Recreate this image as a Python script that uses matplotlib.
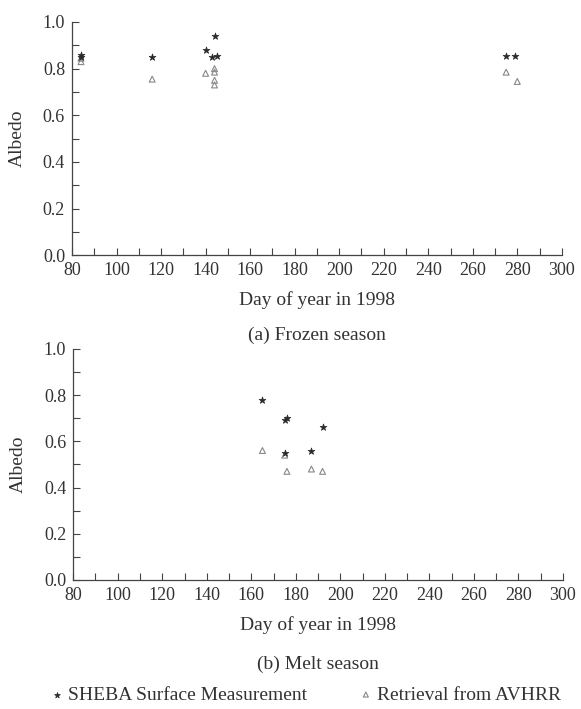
import matplotlib
matplotlib.use('Agg')
import matplotlib.pyplot as plt
from matplotlib.ticker import MultipleLocator, FormatStrFormatter

plt.rcParams['font.family'] = ['Liberation Serif', 'DejaVu Serif']

# (a) frozen season
frozen_sheba_day = [84, 84, 116, 140, 144, 143, 145, 275, 279]
frozen_sheba_alb = [0.86, 0.85, 0.85, 0.88, 0.94, 0.85, 0.855, 0.855, 0.855]
frozen_avhrr_day = [84, 84, 116, 140, 144, 144, 144, 144, 275, 280]
frozen_avhrr_alb = [0.83, 0.845, 0.755, 0.78, 0.80, 0.785, 0.75, 0.73, 0.785, 0.745]

# (b) melt season
melt_sheba_day = [165, 175, 176, 175, 187, 192]
melt_sheba_alb = [0.78, 0.69, 0.70, 0.55, 0.56, 0.66]
melt_avhrr_day = [165, 175, 176, 187, 192]
melt_avhrr_alb = [0.56, 0.54, 0.47, 0.48, 0.47]

fig = plt.figure(figsize=(5.81, 7.09), dpi=100)
ax1 = fig.add_axes([0.124, 0.640, 0.843, 0.329])
ax2 = fig.add_axes([0.126, 0.182, 0.843, 0.326])

panels = [
    (ax1, frozen_sheba_day, frozen_sheba_alb, frozen_avhrr_day, frozen_avhrr_alb,
     '(a) Frozen season', -0.152, -0.345),
    (ax2, melt_sheba_day, melt_sheba_alb, melt_avhrr_day, melt_avhrr_alb,
     '(b) Melt season', -0.158, -0.365),
]

txt = '#333333'
for ax, sd, sa, ad, aa, caption, xl_y, cap_y in panels:
    ax.scatter(sd, sa, marker='*', s=26, color='#2a2a2a', linewidths=0.5, zorder=3,
               label='SHEBA Surface Measurement')
    ax.scatter(ad, aa, marker='^', s=18, facecolors='none', edgecolors='#888888',
               linewidths=0.8, zorder=2, label='Retrieval from AVHRR')
    ax.set_xlim(80, 300)
    ax.set_ylim(0, 1.0)
    ax.xaxis.set_major_locator(MultipleLocator(20))
    ax.xaxis.set_minor_locator(MultipleLocator(10))
    ax.yaxis.set_major_locator(MultipleLocator(0.2))
    ax.yaxis.set_minor_locator(MultipleLocator(0.1))
    ax.yaxis.set_major_formatter(FormatStrFormatter('%.1f'))
    ax.tick_params(which='both', direction='in', length=5, width=0.8, color='#444444',
                   labelsize=13, labelcolor=txt)
    ax.tick_params(axis='x', pad=5)
    ax.tick_params(axis='y', pad=5)
    for side in ('top', 'right'):
        ax.spines[side].set_visible(False)
    for side in ('left', 'bottom'):
        ax.spines[side].set_color('#444444')
        ax.spines[side].set_linewidth(0.9)
    ax.set_xlabel('Day of year in 1998', fontsize=14, color=txt)
    ax.xaxis.set_label_coords(0.5, xl_y)
    ax.set_ylabel('Albedo', fontsize=14, color=txt)
    ax.yaxis.set_label_coords(-0.095, 0.5)
    ax.text(0.5, cap_y, caption, transform=ax.transAxes, ha='center', va='center',
            fontsize=14, color=txt)

handles, labels = ax2.get_legend_handles_labels()
fig.legend(handles, labels, loc='center', bbox_to_anchor=(0.527, 0.020), ncol=2,
           frameon=False, fontsize=14, handlelength=0.6, handletextpad=0.3,
           columnspacing=2.7, labelcolor=txt, markerscale=0.85,
           borderpad=0.1)

fig.savefig('out.png', dpi=100)
